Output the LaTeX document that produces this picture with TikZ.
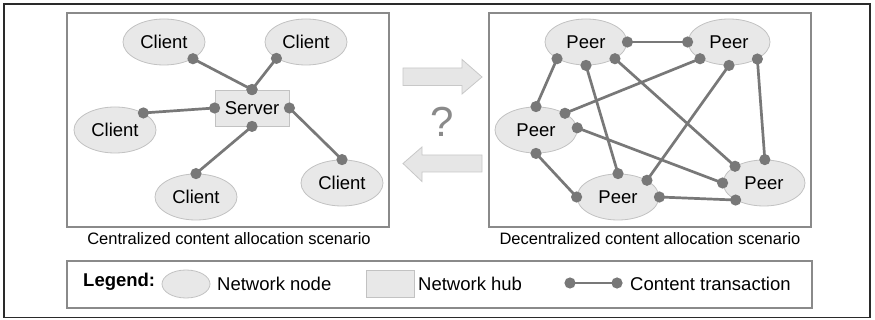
\documentclass[tikz,border=0pt]{standalone}
\usepackage{fontspec}
\setmainfont{Liberation Sans}
\usetikzlibrary{shapes.geometric}
\definecolor{nodefill}{HTML}{E8E8E8}
\definecolor{nodeline}{HTML}{C2C2C2}
\definecolor{linkgray}{HTML}{787878}
\definecolor{panelline}{HTML}{8A8A8A}
\definecolor{framedark}{HTML}{2A2A2A}
\definecolor{arrowfill}{HTML}{E6E6E6}
\definecolor{arrowline}{HTML}{C8C8C8}
\definecolor{qgray}{HTML}{8A8A8A}
\tikzset{
  netnode/.style={ellipse, draw=nodeline, fill=nodefill, line width=0.8pt,
    minimum width=82pt, minimum height=46pt, inner sep=0pt,
    font=\fontsize{18.5}{20}\selectfont},
  hubnode/.style={rectangle, draw=nodeline, fill=nodefill, line width=0.8pt,
    minimum width=74pt, minimum height=36pt, inner sep=0pt,
    font=\fontsize{18.5}{20}\selectfont},
  link/.style={draw=linkgray, line width=2.7pt},
  panel/.style={draw=panelline, line width=1.2pt},
  blockarrow/.style={fill=arrowfill, draw=arrowline, line width=0.8pt},
  caption/.style={anchor=base, inner sep=0pt, font=\fontsize{16.5}{18}\selectfont},
  legtext/.style={anchor=base west, inner sep=0pt, font=\fontsize{18.5}{20}\selectfont}
}
% a content transaction: a line with a dot at each end
\newcommand\netlink[2]{%
  \draw[link] (#1) -- (#2);
  \fill[linkgray] (#1) circle (5.6pt) (#2) circle (5.6pt);}
\begin{document}
\begin{tikzpicture}[x=1pt, y=-1pt]
\useasboundingbox (0,0) rectangle (875,320);
\fill[white] (0,0) rectangle (875,320);
\draw[framedark, line width=1.5pt] (4,4) rectangle (870,317.5);

% panels
\draw[panel] (67,13) rectangle (389,227);
\draw[panel] (489,13) rectangle (811,227);
\node[caption] (capL) at (229,245) {Centralized content allocation scenario};
\node[caption] (capR) at (650,245) {Decentralized content allocation scenario};

% centralized scenario
\node[netnode] (c1) at (164,42) {Client};
\node[netnode] (c2) at (306,42) {Client};
\node[netnode] (c3) at (115,130) {Client};
\node[netnode] (c4) at (196,197) {Client};
\node[netnode] (c5) at (342,183) {Client};
\node[hubnode] (srv) at (252,108) {Server};
\netlink{c1.-30}{srv.north}
\netlink{c2.-151}{srv.north}
\netlink{c3.31}{srv.west}
\netlink{c4.north}{srv.south}
\netlink{c5.north}{srv.east}

% decentralized scenario
\node[netnode] (p1) at (586,42) {Peer};
\node[netnode] (p2) at (729,42) {Peer};
\node[netnode] (p3) at (536,130) {Peer};
\node[netnode] (p4) at (618,197) {Peer};
\node[netnode] (p5) at (764,183) {Peer};
\netlink{p1.east}{p2.west}
\netlink{p1.-150}{p3.north}
\netlink{p1.south}{p4.north}
\netlink{p1.-30}{p5.150}
\netlink{p2.-150}{p3.30}
\netlink{p2.south}{p4.30}
\netlink{p2.-31}{p5.88}
\netlink{p3.3}{p5.west}
\netlink{p3.south}{p4.180}
\netlink{p4.east}{p5.-149}

% transition arrows
\draw[blockarrow] (403,68) -- (462,68) -- (462,59.5) -- (482,77) -- (462,94) -- (462,85.5) -- (403,85.5) -- cycle;
\draw[blockarrow] (482,155) -- (422,155) -- (422,147) -- (403,163.5) -- (422,181.5) -- (422,172) -- (482,172) -- cycle;
\node[text=qgray, inner sep=0pt, font=\fontsize{42}{44}\selectfont] (q) at (442,122) {?};

% legend
\draw[panel] (67,261) rectangle (812,308);
\node[legtext, font=\fontsize{18.5}{20}\selectfont\bfseries] (legtitle) at (83,287) {Legend:};
\node[netnode, minimum width=48pt, minimum height=28pt] (legnode) at (186,284) {};
\node[legtext] (legnodetxt) at (217,290.5) {Network node};
\node[hubnode, minimum width=48pt, minimum height=27pt] (leghub) at (390,283.5) {};
\node[legtext] (leghubtxt) at (418,290.5) {Network hub};
\coordinate (la) at (570,283);
\coordinate (lb) at (617,283);
\netlink{la}{lb}
\node[legtext] (legtxtxt) at (630,290.5) {Content transaction};
\end{tikzpicture}
\end{document}
